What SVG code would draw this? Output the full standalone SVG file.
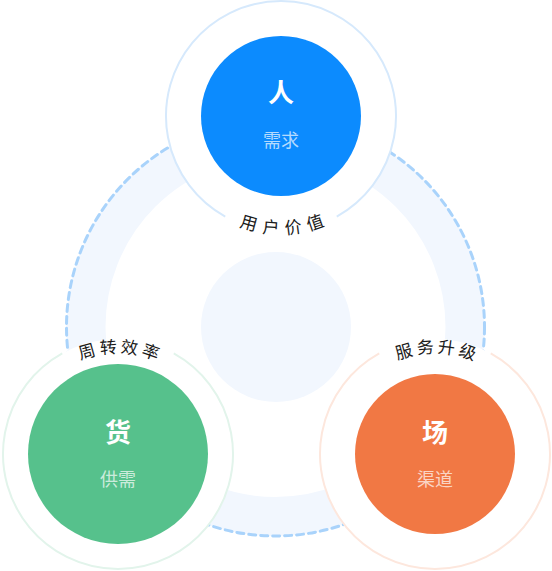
<svg xmlns="http://www.w3.org/2000/svg" width="552" height="571" viewBox="0 0 552 571">
  <defs>
    <style>
      .cjk { font-family: "Noto Sans CJK SC", "Noto Sans", sans-serif; }
      .main { font-size: 26px; font-weight: 700; fill: #ffffff; text-anchor: middle; dominant-baseline: central; }
      .sub { font-size: 18px; fill: #ffffff; fill-opacity: 0.7; text-anchor: middle; dominant-baseline: central; }
      .arc { font-size: 17px; fill: #1a1a1a; letter-spacing: 5px; dominant-baseline: central; }
      .halo { fill: #ffffff; stroke: none; }
      .ring { fill: none; stroke-width: 2; }
    </style>
    <path id="arcTop" d="M 171 116 A 110 110 0 0 0 391 116"/>
    <path id="arcLeft" d="M 9 454 A 109 109 0 0 1 227 454"/>
    <path id="arcRight" d="M 326 454 A 109 109 0 0 1 544 454"/>
  </defs>
  <rect width="552" height="571" fill="#ffffff"/>

  <g id="connectors">
    <circle cx="275.5" cy="327" r="189.5" fill="none" stroke="#f2f7fe" stroke-width="39"/>
    <circle cx="276" cy="327" r="75" fill="#f2f7fe"/>
    <circle cx="275.5" cy="327" r="209" fill="none" stroke="#a9d3fb" stroke-width="3" stroke-dasharray="7 5" stroke-linecap="round"/>
  </g>

  <g id="node-ren" class="cjk">
    <circle class="halo" cx="281" cy="116" r="115"/>
    <path class="ring" stroke="#d6e9fc" d="M 225.25 216.6 A 115 115 0 1 1 336.75 216.6"/>
    <circle cx="281" cy="116" r="80" fill="#0c8bfe"/>
    <text class="main" x="281" y="90">人</text>
    <text class="sub" x="281" y="139">需求</text>
    <text class="arc"><textPath href="#arcTop" startOffset="51%" text-anchor="middle">用户价值</textPath></text>
  </g>

  <g id="node-huo" class="cjk">
    <circle class="halo" cx="118" cy="454" r="115"/>
    <path class="ring" stroke="#e2f4eb" d="M 173.75 353.4 A 115 115 0 1 1 62.25 353.4"/>
    <circle cx="118" cy="454" r="90" fill="#56c18c"/>
    <text class="main" x="118" y="430">货</text>
    <text class="sub" x="118" y="478">供需</text>
    <text class="arc"><textPath href="#arcLeft" startOffset="51%" text-anchor="middle">周转效率</textPath></text>
  </g>

  <g id="node-chang" class="cjk">
    <circle class="halo" cx="435" cy="454" r="115"/>
    <path class="ring" stroke="#fde7dd" d="M 490.75 353.4 A 115 115 0 1 1 379.25 353.4"/>
    <circle cx="435" cy="454" r="80" fill="#f17844"/>
    <text class="main" x="435" y="430">场</text>
    <text class="sub" x="435" y="478">渠道</text>
    <text class="arc"><textPath href="#arcRight" startOffset="51%" text-anchor="middle">服务升级</textPath></text>
  </g>
</svg>
